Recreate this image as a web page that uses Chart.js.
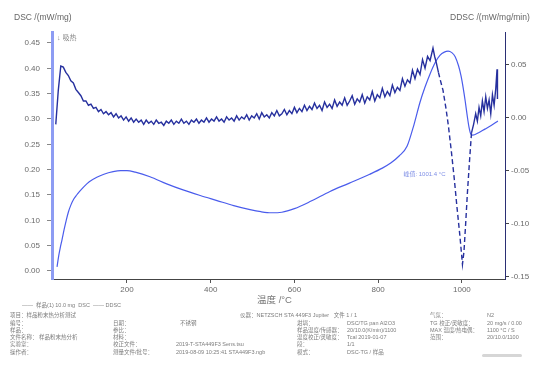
<!DOCTYPE html>
<html lang="zh">
<head>
<meta charset="utf-8">
<script src="https://cdn.jsdelivr.net/npm/chart.js@4/dist/chart.umd.min.js"></script>
<style>
  html, body { margin: 0; padding: 0; background: #ffffff; }
  #wrap { position: relative; width: 541px; height: 365px; overflow: hidden;
          font-family: "Liberation Sans", "Noto Sans CJK SC", sans-serif; }
  #plot { position: absolute; left: 0; top: 0; }
  .t { position: absolute; white-space: nowrap; color: #666; }
  .ttl { font-size: 8.5px; top: 12px; }
  .foot { font-size: 5.5px; color: #7d7d7d; line-height: 6px; }
</style>
</head>
<body>
<div id="wrap">
  <canvas id="plot" width="541" height="300"></canvas>
  <div class="t ttl" style="left:14px;">DSC /(mW/mg)</div>
  <div class="t ttl" style="left:450px;">DDSC /(mW/mg/min)</div>
  <div class="t" style="left:57px; top:32px; font-size:7px; color:#888;">↓ 吸热</div>
  <div class="t" style="left:257px; top:292px; font-size:9.5px; color:#777;">温度 /°C</div>

  <!-- report block -->
  <div class="t foot" style="left:22px; top:302px;">——&nbsp; 样品(1) 10.0 mg &nbsp;DSC &nbsp;—— DDSC</div>

  <div class="t foot" style="left:10px; top:312px;">项目：样品粉末热分析测试</div>
  <div class="t foot" style="left:10px; top:320px;">编号：</div>
  <div class="t foot" style="left:10px; top:327px;">样品：</div>
  <div class="t foot" style="left:10px; top:334px;">文件名称：&nbsp;样品粉末热分析</div>
  <div class="t foot" style="left:10px; top:341px;">实验室：</div>
  <div class="t foot" style="left:10px; top:349px;">操作者：</div>

  <div class="t foot" style="left:113px; top:320px;">日期：</div>
  <div class="t foot" style="left:180px; top:320px;">不锈钢</div>
  <div class="t foot" style="left:113px; top:327px;">参比：</div>
  <div class="t foot" style="left:113px; top:334px;">材料：</div>
  <div class="t foot" style="left:113px; top:341px;">校正文件：</div>
  <div class="t foot" style="left:176px; top:341px;">2019-T-STA449F3 Sens.tsu</div>
  <div class="t foot" style="left:113px; top:349px;">测量文件/批号：</div>
  <div class="t foot" style="left:176px; top:349px;">2019-08-09 10:25:41 STA449F3.ngb</div>

  <div class="t foot" style="left:240px; top:312px;">仪器：NETZSCH STA 449F3 Jupiter &nbsp; 文件 1 / 1</div>
  <div class="t foot" style="left:297px; top:320px;">坩埚：</div>
  <div class="t foot" style="left:347px; top:320px;">DSC/TG pan Al2O3</div>
  <div class="t foot" style="left:297px; top:327px;">样品温度/传感器：</div>
  <div class="t foot" style="left:347px; top:327px;">20/10.0(K/min)/1100</div>
  <div class="t foot" style="left:297px; top:334px;">温度校正/灵敏度：</div>
  <div class="t foot" style="left:347px; top:334px;">Tcal 2019-01-07</div>
  <div class="t foot" style="left:297px; top:341px;">段：</div>
  <div class="t foot" style="left:347px; top:341px;">1/1</div>
  <div class="t foot" style="left:297px; top:349px;">模式：</div>
  <div class="t foot" style="left:347px; top:349px;">DSC-TG / 样品</div>

  <div class="t foot" style="left:430px; top:312px;">气氛：</div>
  <div class="t foot" style="left:487px; top:312px;">N2</div>
  <div class="t foot" style="left:430px; top:320px;">TG 校正/灵敏度：</div>
  <div class="t foot" style="left:487px; top:320px;">20 mg/s / 0.00</div>
  <div class="t foot" style="left:430px; top:327px;">MAX 温度/热电偶：</div>
  <div class="t foot" style="left:487px; top:327px;">1100 °C / S</div>
  <div class="t foot" style="left:430px; top:334px;">范围：</div>
  <div class="t foot" style="left:487px; top:334px;">20/10.0/1100</div>
  <div class="t" style="left:482px; top:354px; width:40px; height:3px; background:#d6d6d6; border-radius:2px;"></div>
</div>

<script>
// DSC signal (left axis, mW/mg) against temperature in °C
const dscTemp = [33, 37, 41, 45, 50, 55, 60, 66, 73, 80, 88, 98, 110, 128, 145, 167, 185, 200, 220, 255,
  295, 334, 375, 415, 455, 494, 520, 545, 570, 600, 640, 685, 730, 780, 810, 830, 850, 869, 886, 900,
  912, 924, 936, 948, 958, 967, 976, 984, 992, 998, 1003, 1008, 1013, 1017, 1021, 1026, 1040, 1055, 1070, 1086];
const dscValue = [0.008, 0.030, 0.047, 0.062, 0.082, 0.100, 0.116, 0.130, 0.142, 0.150, 0.158, 0.167, 0.176, 0.185, 0.191, 0.196, 0.198, 0.198, 0.195, 0.186,
  0.172, 0.160, 0.149, 0.139, 0.129, 0.121, 0.117, 0.115, 0.116, 0.123, 0.138, 0.157, 0.173, 0.191, 0.203, 0.213, 0.227, 0.246, 0.290, 0.333,
  0.363, 0.389, 0.411, 0.426, 0.432, 0.434, 0.431, 0.423, 0.405, 0.385, 0.362, 0.335, 0.305, 0.284, 0.271, 0.268, 0.273, 0.280, 0.287, 0.296];

// DDSC signal (right axis, mW/mg/min)
const ddscTemp = [30, 36, 42, 48, 54, 60, 66, 72, 78, 84, 90, 96, 102, 108, 114, 120, 126, 132, 138, 144,
  150, 156, 162, 168, 174, 180, 186, 192, 198, 204, 210, 216, 222, 228, 234, 240, 246, 252, 258, 264,
  270, 276, 282, 288, 294, 300, 306, 312, 318, 324, 330, 336, 342, 348, 354, 360, 366, 372, 378, 384,
  390, 396, 402, 408, 414, 420, 426, 432, 438, 444, 450, 456, 462, 468, 474, 480, 486, 492, 498, 504,
  510, 516, 522, 528, 534, 540, 546, 552, 558, 564, 570, 576, 582, 588, 594, 600, 606, 612, 618, 624,
  630, 636, 642, 648, 654, 660, 666, 672, 678, 684, 690, 696, 702, 708, 714, 720, 726, 732, 738, 744,
  750, 756, 762, 768, 774, 780, 786, 792, 798, 804, 810, 816, 822, 828, 834, 840, 846, 852, 858, 864,
  870, 876, 882, 888, 894, 900, 906, 912, 918, 924, 931, 935, 939, 944, 949, 955, 962, 968, 975, 982,
  988, 995, 1001.4, 1005, 1009, 1013, 1018, 1023, 1028, 1033, 1037, 1041, 1045, 1049, 1053, 1057, 1061, 1065, 1069, 1073,
  1077, 1081, 1084, 1085];
const ddscValue = [-0.006, 0.026, 0.049, 0.048, 0.043, 0.040, 0.035, 0.033, 0.027, 0.024, 0.021, 0.016, 0.016, 0.012, 0.013, 0.009, 0.010, 0.006, 0.008, 0.004,
  0.006, 0.003, 0.005, 0.001, 0.004, 0.000, 0.002, -0.002, 0.001, -0.003, 0.000, -0.004, -0.001, -0.004, -0.002, -0.006, -0.002, -0.005, -0.003, -0.006,
  -0.002, -0.005, -0.004, -0.007, -0.003, -0.005, -0.002, -0.006, -0.003, -0.005, -0.001, -0.005, -0.003, -0.006, -0.002, -0.004, -0.001, -0.005, -0.002, -0.004,
  0.000, -0.004, -0.001, -0.003, 0.001, -0.003, -0.001, -0.004, 0.001, -0.002, 0.000, -0.003, 0.002, -0.002, 0.001, -0.001, 0.003, -0.002, 0.002, 0.000,
  0.004, -0.001, 0.005, 0.001, 0.003, 0.000, 0.005, 0.002, 0.007, 0.002, 0.004, 0.008, 0.003, 0.007, 0.004, 0.010, 0.005, 0.009, 0.006, 0.012,
  0.007, 0.011, 0.008, 0.014, 0.009, 0.012, 0.007, 0.015, 0.010, 0.013, 0.009, 0.017, 0.011, 0.015, 0.012, 0.019, 0.012, 0.016, 0.021, 0.013,
  0.018, 0.015, 0.022, 0.014, 0.020, 0.017, 0.025, 0.016, 0.022, 0.019, 0.028, 0.020, 0.025, 0.021, 0.031, 0.024, 0.029, 0.026, 0.037, 0.030,
  0.036, 0.033, 0.045, 0.037, 0.046, 0.041, 0.055, 0.047, 0.058, 0.054, 0.066, 0.058, 0.052, 0.043, 0.035, 0.026, 0.009, -0.008, -0.032, -0.058,
  -0.083, -0.110, -0.138, -0.126, -0.100, -0.072, -0.042, -0.014, -0.006, 0.004, -0.003, 0.010, 0.002, 0.016, 0.006, 0.020, 0.009, 0.017, 0.004, 0.022,
  0.012, 0.028, 0.046, 0.018];

const xTicks = [200, 400, 600, 800, 1000];
const dscTicks = [0.00, 0.05, 0.10, 0.15, 0.20, 0.25, 0.30, 0.35, 0.40, 0.45];
const ddscTicks = [-0.15, -0.10, -0.05, 0.00, 0.05];
const peakTemp = 1001.4;
const peakLabel = '峰值: 1001.4 °C';

const toPoints = (xs, ys) => xs.map((x, i) => ({ x: x, y: ys[i] }));
const fixTicks = vals => scale => { scale.ticks = vals.map(v => ({ value: v })); };
const tickFont = { size: 8, family: 'Liberation Sans' };

// annotation for the DDSC minimum
const peakNote = {
  id: 'peakNote',
  afterDatasetsDraw(chart) {
    const { ctx, scales } = chart;
    const px = scales.x.getPixelForValue(peakTemp);
    const py = scales.y2.getPixelForValue(-0.05) + 3;
    ctx.save();
    ctx.font = '6px "Liberation Sans", "Noto Sans CJK SC"';
    ctx.fillStyle = '#7f8fe6';
    ctx.textAlign = 'right';
    ctx.textBaseline = 'middle';
    ctx.fillText(peakLabel, px - 17, py);
    ctx.restore();
  }
};

new Chart(document.getElementById('plot'), {
  type: 'line',
  data: {
    datasets: [
      {
        label: 'DDSC',
        data: toPoints(ddscTemp, ddscValue),
        yAxisID: 'y2',
        borderColor: '#26309e',
        borderWidth: 1.4,
        pointRadius: 0,
        tension: 0,
        segment: {
          borderDash: c => (c.p0.parsed.x >= 944 && c.p1.parsed.x <= 1023) ? [5, 3] : undefined
        }
      },
      {
        label: 'DSC',
        data: toPoints(dscTemp, dscValue),
        yAxisID: 'y',
        borderColor: '#4a5cec',
        borderWidth: 1.2,
        pointRadius: 0,
        cubicInterpolationMode: 'monotone'
      }
    ]
  },
  options: {
    responsive: false,
    animation: false,
    events: [],
    layout: { padding: { top: 32, left: 0, right: 0, bottom: 0 } },
    plugins: { legend: { display: false }, tooltip: { enabled: false } },
    scales: {
      x: {
        type: 'linear',
        min: 21,
        max: 1103,
        afterBuildTicks: fixTicks(xTicks),
        afterFit: s => { s.height = 21; },
        grid: { drawOnChartArea: false, drawTicks: true, tickLength: 4, color: '#555' },
        border: { color: '#444', width: 1 },
        ticks: { color: '#6a6a6a', font: tickFont, padding: 2, maxRotation: 0,
                 callback: v => String(v) }
      },
      y: {
        position: 'left',
        min: -0.0158,
        max: 0.4717,
        afterBuildTicks: fixTicks(dscTicks),
        afterFit: s => { s.width = 52; },
        grid: { drawOnChartArea: false, drawTicks: true, tickLength: 5, color: '#888' },
        border: { color: '#8d9cf3', width: 3 },
        ticks: { color: '#6a6a6a', font: tickFont, padding: 7,
                 callback: v => v.toFixed(2) }
      },
      y2: {
        position: 'right',
        min: -0.1519,
        max: 0.0811,
        afterBuildTicks: fixTicks(ddscTicks),
        afterFit: s => { s.width = 36; },
        grid: { drawOnChartArea: false, drawTicks: true, tickLength: 4, color: '#444' },
        border: { color: '#2b2f74', width: 1 },
        ticks: { color: '#6a6a6a', font: tickFont, padding: 2,
                 callback: v => v.toFixed(2) }
      }
    }
  },
  plugins: [peakNote]
});
</script>
</body>
</html>
